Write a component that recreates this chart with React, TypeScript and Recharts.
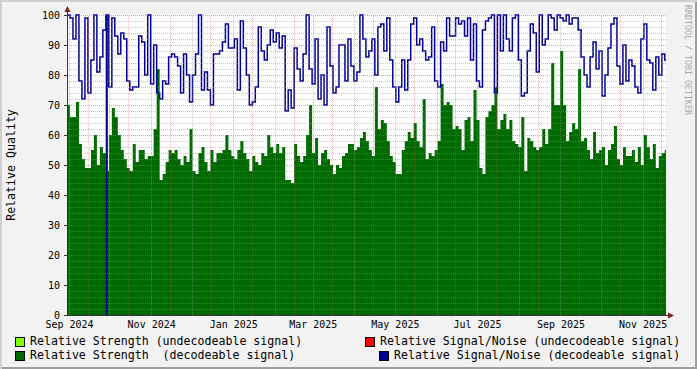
import React from 'react';
import { ComposedChart, Area, Line, XAxis, YAxis, ReferenceLine } from 'recharts';

// time axis: days since 2024-09-01, one consolidated sample every 2.22 days
const SAMPLE_START = -1.9;
const SAMPLE_DAYS = 2.22;
const DOMAIN_END = 443;

// Relative Strength (decodeable signal)
const strength = [
  70, 66, 66, 71, 57, 52, 49, 49, 55, 60, 50, 56, 54, 48, 60, 69, 66, 60, 55, 52,
  49, 48, 57, 51, 55, 55, 52, 53, 53, 62, 82, 45, 47, 51, 55, 54, 55, 52, 50, 53,
  51, 62, 48, 47, 54, 56, 51, 48, 55, 51, 54, 54, 55, 60, 55, 53, 52, 55, 58, 54,
  52, 48, 53, 51, 50, 54, 53,
  60, 56, 54, 57, 54, 56, 45, 45, 44, 57, 53, 51, 53, 60, 70, 54, 59, 50, 54, 55,
  52, 50, 47, 50, 49, 53, 54, 57, 57, 55, 56, 59, 61, 58, 55, 53, 76, 62, 65, 64,
  58, 53, 51, 47, 47, 55, 58, 61, 59, 64, 58, 56, 72, 52, 54, 53, 55, 58, 77, 70,
  71, 70, 62, 63, 62, 55, 65,
  66, 58, 75, 65, 49, 47, 66, 68, 70, 76, 62, 65, 67, 62, 65, 58, 57, 56, 66, 48,
  59, 58, 56, 55, 56, 62, 57, 62, 84, 70, 70, 88, 70, 58, 61, 64, 62, 82, 58, 59,
  55, 52, 61, 54, 55, 56, 50, 55, 57, 63, 52, 50, 56, 53, 53, 55, 51, 56, 50, 60,
  56, 52, 57, 49, 53, 54, 55,
];

// Relative Signal/Noise (decodeable signal)
const signalNoise = [
  100, 99, 92, 100, 78, 72, 99, 74, 85, 100, 81, 86, 95, 100, 76, 99, 93, 87, 94, 92,
  78, 75, 76, 76, 93, 91, 80, 100, 77, 90, 74, 72, 78, 77, 86, 87, 86, 83, 74, 87,
  80, 71, 80, 87, 100, 75, 81, 75, 70, 87, 87, 88, 91, 97, 89, 89, 92, 75, 98, 89,
  80, 70, 71, 76, 96, 88, 85,
  90, 95, 91, 94, 89, 93, 68, 75, 69, 89, 82, 78, 87, 100, 82, 77, 92, 72, 80, 70,
  96, 83, 74, 76, 90, 90, 78, 92, 83, 78, 81, 100, 92, 86, 88, 92, 80, 96, 97, 88,
  99, 85, 76, 71, 76, 85, 75, 85, 97, 99, 90, 92, 88, 85, 86, 96, 78, 76, 91, 88,
  99, 93, 93, 99, 97, 98, 93,
  99, 85, 97, 78, 76, 95, 98, 99, 100, 74, 100, 88, 100, 92, 88, 99, 100, 85, 73, 74,
  88, 97, 94, 81, 100, 90, 92, 100, 99, 95, 100, 99, 98, 100, 97, 99, 99, 95, 86, 80,
  76, 86, 91, 82, 88, 73, 80, 89, 97, 99, 83, 77, 90, 78, 85, 83, 76, 74, 92, 97,
  85, 84, 75, 86, 80, 87, 85,
];

// short S/N dropouts to zero
const dropoutDays = [27.4];

const labelDays = [0, 61, 122, 181, 242, 303, 365, 426];
const labelTexts = ['Sep 2024', 'Nov 2024', 'Jan 2025', 'Mar 2025', 'May 2025', 'Jul 2025', 'Sep 2025', 'Nov 2025'];
const monthStartDays = [0, 30, 61, 91, 122, 153, 181, 212, 242, 273, 303, 334, 365, 395, 426];
const midMonthDays = [14, 44, 75, 105, 136, 167, 195, 226, 256, 287, 317, 348, 379, 409, 440];

const yTicks = [0, 10, 20, 30, 40, 50, 60, 70, 80, 90, 100];
const yMinor = [2, 4, 6, 8, 12, 14, 16, 18, 22, 24, 26, 28, 32, 34, 36, 38, 42, 44, 46, 48, 52, 54, 56, 58, 62, 64, 66, 68, 72, 74, 76, 78, 82, 84, 86, 88, 92, 94, 96, 98];

const legendItems = [
  { label: 'Relative Strength (undecodeable signal)', color: '#80ff00' },
  { label: 'Relative Signal/Noise (undecodeable signal)', color: '#ff0000' },
  { label: 'Relative Strength  (decodeable signal)', color: '#006a00' },
  { label: 'Relative Signal/Noise (decodeable signal)', color: '#000090' },
];

const data: { day: number; strength: number; snr: number }[] = strength.map((s, i) => ({
  day: SAMPLE_START + i * SAMPLE_DAYS,
  strength: s,
  snr: signalNoise[i],
}));
dropoutDays.forEach((d) => {
  const i = Math.floor((d - SAMPLE_START) / SAMPLE_DAYS);
  data.push({ day: d, strength: strength[i], snr: 0 });
  data.push({ day: d + 0.5, strength: strength[i], snr: signalNoise[i] });
});
data.push({ day: DOMAIN_END, strength: strength[strength.length - 1], snr: signalNoise[signalNoise.length - 1] });
data.sort((a, b) => a.day - b.day);

const MONO = "'DejaVu Sans Mono', monospace";
const GRID = '#8f8f8f';
const MGRID = '#de4f4f';

const legendPos = [
  { box: [15, 337], text: [30, 334] },
  { box: [365, 337], text: [380, 334] },
  { box: [15, 351], text: [30, 348] },
  { box: [379, 351], text: [394, 348] },
];

const App: React.FC = () => {
  return (
    <div
      style={{
        position: 'absolute', left: 0, top: 0, width: 697, height: 369,
        background: '#f2f2f2',
        boxShadow: 'inset 2px 2px 0 #cfcfcf, inset -2px -2px 0 #9e9e9e',
        fontFamily: MONO,
      }}
    >
      <ComposedChart width={697} height={369} data={data} margin={{ top: 15, right: 31, bottom: 34, left: 0 }}>
        <rect x={67} y={15} width={599} height={300} fill="#ffffff" />
        <XAxis
          dataKey="day"
          type="number"
          domain={[SAMPLE_START, DOMAIN_END]}
          allowDataOverflow
          ticks={labelDays}
          interval={0}
          tickFormatter={(d: number) => labelTexts[labelDays.indexOf(d)] ?? ''}
          height={20}
          tickLine={false}
          tickSize={3}
          tickMargin={3}
          axisLine={{ stroke: '#333', shapeRendering: 'crispEdges' }}
          tick={{ fontFamily: MONO, fontSize: 10, fill: '#000' }}
        />
        <YAxis
          type="number"
          domain={[0, 100]}
          ticks={yTicks}
          interval={0}
          width={67}
          tickSize={3}
          tickMargin={4}
          axisLine={{ stroke: '#333', shapeRendering: 'crispEdges' }}
          tickLine={{ stroke: '#333', shapeRendering: 'crispEdges' }}
          tick={{ fontFamily: MONO, fontSize: 10, fill: '#000' }}
          label={{
            value: 'Relative Quality', angle: -90, position: 'insideLeft', offset: 11,
            style: { textAnchor: 'middle', fontFamily: MONO, fontSize: 11.6, fill: '#000' },
          }}
        />
        <Area
          dataKey="strength"
          type="stepAfter"
          fill="#006a00"
          fillOpacity={1}
          stroke="none"
          dot={false}
          activeDot={false}
          isAnimationActive={false}
        />
        <Line
          dataKey="snr"
          type="stepAfter"
          stroke="#000090"
          strokeWidth={1.5}
          dot={false}
          activeDot={false}
          isAnimationActive={false}
        />
        {yMinor.map((v) => (
          <ReferenceLine key={`hy${v}`} y={v} stroke={GRID} strokeOpacity={0.5} strokeDasharray="1 1" shapeRendering="crispEdges" />
        ))}
        {monthStartDays.map((d) => (
          <ReferenceLine key={`vx${d}`} x={d} stroke={GRID} strokeOpacity={0.5} strokeDasharray="1 1" shapeRendering="crispEdges" />
        ))}
        {yTicks.slice(1).map((v) => (
          <ReferenceLine key={`my${v}`} y={v} stroke={MGRID} strokeOpacity={0.55} strokeDasharray="1 1" shapeRendering="crispEdges" />
        ))}
        {midMonthDays.map((d) => (
          <ReferenceLine key={`mx${d}`} x={d} stroke={MGRID} strokeOpacity={0.4} strokeDasharray="1 1" shapeRendering="crispEdges" />
        ))}
      </ComposedChart>

      {/* axis arrows */}
      <svg width={697} height={369} style={{ position: 'absolute', left: 0, top: 0, pointerEvents: 'none' }}>
        <line x1={67.5} y1={15} x2={67.5} y2={10} stroke="#333" />
        <polygon points="64.5,12 70.5,12 67.5,6" fill="#801f1f" />
        <line x1={666} y1={315.5} x2={670} y2={315.5} stroke="#333" />
        <polygon points="668,312.5 668,318.5 674,315.5" fill="#801f1f" />
      </svg>

      {legendItems.map((item, i) => (
        <React.Fragment key={item.label}>
          <div
            style={{
              position: 'absolute', left: legendPos[i].box[0], top: legendPos[i].box[1],
              width: 8, height: 8, background: item.color, border: '1px solid #000',
            }}
          />
          <div
            style={{
              position: 'absolute', left: legendPos[i].text[0], top: legendPos[i].text[1],
              fontSize: 11.6, lineHeight: '14px', whiteSpace: 'pre', color: '#000',
            }}
          >
            {item.label}
          </div>
        </React.Fragment>
      ))}

      <div
        style={{
          position: 'absolute', left: 683, top: 5, writingMode: 'vertical-rl',
          fontSize: 8.3, lineHeight: '10px', color: '#a8a8a8', whiteSpace: 'pre',
        }}
      >
        RRDTOOL / TOBI OETIKER
      </div>
    </div>
  );
};

export default App;
